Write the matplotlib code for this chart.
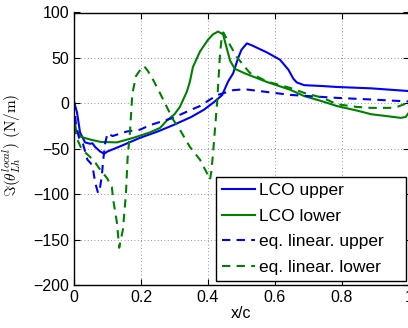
import matplotlib
matplotlib.use("Agg")
import matplotlib.pyplot as plt

plt.rcParams['font.family'] = ['Liberation Sans', 'DejaVu Sans']
plt.rcParams['mathtext.fontset'] = 'cm'

# LCO upper (blue solid)
x_lco_up = [0, 0.009, 0.018, 0.033, 0.048, 0.055, 0.063, 0.078, 0.09, 0.1, 0.14,
            0.197, 0.25, 0.296, 0.35, 0.388, 0.42, 0.442, 0.46, 0.475, 0.49, 0.50,
            0.516, 0.53, 0.576, 0.615, 0.64, 0.655, 0.665, 0.687, 0.743, 0.785,
            0.887, 1.0]
y_lco_up = [2, -10, -32, -43, -44.5, -44, -48, -53, -55.5, -53, -47,
            -38, -31, -24, -15, -7, 2, 9, 24, 33, 50, 59,
            66, 64, 56, 48, 37, 27, 23, 20, 19, 18,
            16.5, 13.5]

# LCO lower (green solid)
x_lco_lo = [0, 0.006, 0.021, 0.05, 0.08, 0.128, 0.177, 0.227, 0.257, 0.277, 0.30,
            0.316, 0.337, 0.346, 0.355, 0.376, 0.40, 0.415, 0.43, 0.445, 0.455,
            0.466, 0.48, 0.51, 0.576, 0.645, 0.687, 0.743, 0.785, 0.845, 0.887,
            0.943, 0.975, 0.99, 1.0]
y_lco_lo = [-15, -29, -37, -40, -42.5, -43, -38, -32, -27, -19, -12,
            -4, 13, 24, 40, 57, 70, 76, 79, 76, 62,
            47, 38, 33, 23.5, 15, 8, 2, -3, -8, -12,
            -14.5, -16, -15, -10]

# eq. linear. upper (blue dashed)
x_lin_up = [0, 0.006, 0.015, 0.027, 0.04, 0.05, 0.057, 0.063, 0.072, 0.078, 0.083,
            0.087, 0.093, 0.1, 0.115, 0.158, 0.197, 0.227, 0.296, 0.35, 0.376,
            0.397, 0.427, 0.475, 0.51, 0.576, 0.645, 0.785, 0.9, 1.0]
y_lin_up = [2, -25, -38, -45, -62, -66, -73, -87, -99, -92, -80,
            -63, -44, -33, -36, -31, -29, -24, -16, -7, -3,
            2, 9, 14.5, 15.5, 12.5, 9.3, 6, 4, 2]

# eq. linear. lower (green dashed)
x_lin_lo = [0, 0.01, 0.02, 0.027, 0.048, 0.065, 0.078, 0.098, 0.113, 0.117, 0.128,
            0.135, 0.146, 0.155, 0.16, 0.167, 0.174, 0.185, 0.2, 0.209, 0.22,
            0.236, 0.257, 0.277, 0.296, 0.316, 0.346, 0.376, 0.397, 0.406, 0.41,
            0.415, 0.427, 0.436, 0.442, 0.446, 0.466, 0.486, 0.51, 0.525, 0.576,
            0.645, 0.687, 0.743, 0.785, 0.845, 0.887, 0.943, 0.964, 1.0]
y_lin_lo = [-25, -40, -48, -52, -59, -66, -73, -82, -92, -106, -131,
            -159, -139, -100, -60, -32, 10, 30, 38, 41, 36,
            26, 11, -4, -18, -29, -48, -62, -77, -84, -75,
            -55, 0, 55, 76, 78, 64, 51, 40, 33.5, 24,
            17, 11.5, 6, -1, -4, -5, -5, -4, 1]

labels = ['LCO upper', 'LCO lower', 'eq. linear. upper', 'eq. linear. lower']

fig = plt.figure(figsize=(4.08, 3.28), dpi=100)
ax = fig.add_axes([74/408, 1-285/328, 335/408, 272.5/328])

blue = (0, 0, 1)
green = (0, 0.5, 0)
ax.plot(x_lco_up, y_lco_up, color=blue, lw=1.5, label=labels[0])
ax.plot(x_lco_lo, y_lco_lo, color=green, lw=1.5, label=labels[1])
ax.plot(x_lin_up, y_lin_up, color=blue, lw=1.5, ls=(0, (4, 3)), label=labels[2])
ax.plot(x_lin_lo, y_lin_lo, color=green, lw=1.5, ls=(0, (4, 3)), label=labels[3])

ax.set_xlim(0, 1)
ax.set_ylim(-200, 100)
ax.set_xticks([0, 0.2, 0.4, 0.6, 0.8, 1])
ax.set_xticklabels(['0', '0.2', '0.4', '0.6', '0.8', '1'])
ax.set_yticks([-200, -150, -100, -50, 0, 50, 100])
ax.tick_params(direction='in', top=True, right=True, length=4, labelsize=11.5, width=0.8)
ax.grid(True, ls=(0, (1, 3)), color='0.45', lw=0.6)
for s in ax.spines.values():
    s.set_linewidth(1.0)

ax.set_xlabel('x/c', fontsize=11.5, labelpad=1)
ax.set_ylabel(r'$\Im(\theta_{Lh}^{local})\ \mathrm{(N/m)}$', fontsize=11)
ax.yaxis.set_label_coords(-0.152, 0.514)

leg = ax.legend(loc='lower left', bbox_to_anchor=(216/408, 47/328, 190/408, 107/328),
                bbox_transform=fig.transFigure, mode='expand', fontsize=12.5,
                frameon=True, fancybox=False, framealpha=1, edgecolor='black',
                handlelength=1.9, handletextpad=0.25, labelspacing=0.6,
                borderpad=0.35, borderaxespad=0)
leg.get_frame().set_linewidth(1.0)

fig.savefig('out.png', dpi=100)
